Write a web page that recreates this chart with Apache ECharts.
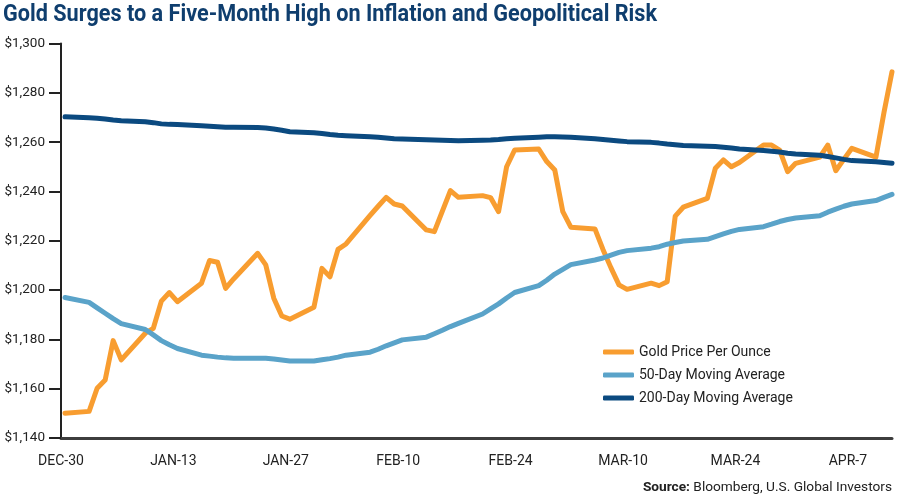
<!DOCTYPE html>
<html>
<head>
<meta charset="utf-8">
<script src="https://cdn.jsdelivr.net/npm/echarts@6/dist/echarts.min.js"></script>
<style>
html,body{margin:0;padding:0;background:#fff;}
#c{width:900px;height:501px;}
</style>
</head>
<body>
<div id="c"></div>
<script>
const dates = [
'2016-12-30',
'2017-01-02','2017-01-03','2017-01-04','2017-01-05','2017-01-06',
'2017-01-09','2017-01-10','2017-01-11','2017-01-12','2017-01-13',
'2017-01-16','2017-01-17','2017-01-18','2017-01-19','2017-01-20',
'2017-01-23','2017-01-24','2017-01-25','2017-01-26','2017-01-27',
'2017-01-30','2017-01-31','2017-02-01','2017-02-02','2017-02-03',
'2017-02-06','2017-02-07','2017-02-08','2017-02-09','2017-02-10',
'2017-02-13','2017-02-14','2017-02-15','2017-02-16','2017-02-17',
'2017-02-20','2017-02-21','2017-02-22','2017-02-23','2017-02-24',
'2017-02-27','2017-02-28','2017-03-01','2017-03-02','2017-03-03',
'2017-03-06','2017-03-07','2017-03-08','2017-03-09','2017-03-10',
'2017-03-13','2017-03-14','2017-03-15','2017-03-16','2017-03-17',
'2017-03-20','2017-03-21','2017-03-22','2017-03-23','2017-03-24',
'2017-03-27','2017-03-28','2017-03-29','2017-03-30','2017-03-31',
'2017-04-03','2017-04-04','2017-04-05','2017-04-06','2017-04-07',
'2017-04-10','2017-04-11','2017-04-12'
];
const gold = [
1150.0,
1150.8, 1160.2, 1163.5, 1179.5, 1171.7,
1182.5, 1184.5, 1195.5, 1199.0, 1195.3,
1202.8, 1212.0, 1211.3, 1200.7, 1204.5,
1214.9, 1210.2, 1196.7, 1189.5, 1188.2,
1193.0, 1208.8, 1205.4, 1216.5, 1218.7,
1230.3, 1234.0, 1237.6, 1234.9, 1234.1,
1224.4, 1223.7, 1232.0, 1240.3, 1237.6,
1238.3, 1237.5, 1231.8, 1250.0, 1256.8,
1257.2, 1252.1, 1248.7, 1231.8, 1225.5,
1224.8, 1216.5, 1209.0, 1202.1, 1200.3,
1202.8, 1201.8, 1203.4, 1230.0, 1233.6,
1237.2, 1249.4, 1252.8, 1250.0, 1251.7,
1258.8, 1258.8, 1256.8, 1248.0, 1251.4,
1253.9, 1258.8, 1248.4, 1253.0, 1257.5,
1253.9, 1272.0, 1288.5
];
const ma50 = [
1197.0,
1195.0, 1192.8, 1190.6, 1188.4, 1186.4,
1184.0, 1181.8, 1179.5, 1177.8, 1176.3,
1173.6, 1173.2, 1172.8, 1172.5, 1172.3,
1172.3, 1172.3, 1172.0, 1171.6, 1171.2,
1171.2, 1171.7, 1172.2, 1172.8, 1173.6,
1174.8, 1176.0, 1177.4, 1178.6, 1179.8,
1180.9, 1182.3, 1183.7, 1185.2, 1186.5,
1190.3, 1192.4, 1194.4, 1196.8, 1199.0,
1201.8, 1204.0, 1206.5, 1208.4, 1210.3,
1212.2, 1213.0, 1214.2, 1215.3, 1216.0,
1217.0, 1217.6, 1218.6, 1219.3, 1219.9,
1220.6, 1221.7, 1222.8, 1223.8, 1224.6,
1225.7, 1226.7, 1227.8, 1228.6, 1229.2,
1230.1, 1231.6, 1232.8, 1234.0, 1234.9,
1236.3, 1237.6, 1238.8
];
const ma200 = [
1270.3,
1269.9, 1269.7, 1269.4, 1269.0, 1268.7,
1268.3, 1267.9, 1267.4, 1267.2, 1267.1,
1266.6, 1266.4, 1266.2, 1266.0, 1266.0,
1265.9, 1265.7, 1265.3, 1264.8, 1264.2,
1263.8, 1263.5, 1263.1, 1262.8, 1262.6,
1262.2, 1262.0, 1261.7, 1261.4, 1261.3,
1261.0, 1260.9, 1260.8, 1260.7, 1260.6,
1260.8, 1260.9, 1261.1, 1261.4, 1261.6,
1262.0, 1262.2, 1262.2, 1262.1, 1262.0,
1261.4, 1261.1, 1260.8, 1260.5, 1260.2,
1259.9, 1259.6, 1259.2, 1258.9, 1258.6,
1258.3, 1258.2, 1257.9, 1257.6, 1257.2,
1256.6, 1256.3, 1256.0, 1255.5, 1255.2,
1254.7, 1254.2, 1253.6, 1253.0, 1252.5,
1252.0, 1251.7, 1251.4
];
const xTickLabels = ['DEC-30','JAN-13','JAN-27','FEB-10','FEB-24','MAR-10','MAR-24','APR-7'];
const seriesNames = ['Gold Price Per Ounce','50-Day Moving Average','200-Day Moving Average'];
const titleText = 'Gold Surges to a Five-Month High on Inflation and Geopolitical Risk';

const DAY = 86400000;
const t0 = Date.UTC(2016, 11, 30);
function dayPos(s) {
  const p = s.split('-').map(Number);
  return (Date.UTC(p[0], p[1] - 1, p[2]) - t0) / DAY + 0.5;
}
function pairs(vals) { return dates.map((d, i) => [dayPos(d), vals[i]]); }

const FONT = 'Roboto, "Noto Sans", sans-serif';
const TITLE_FONT = 'bold 23px Roboto, sans-serif';
const mctx = document.createElement('canvas').getContext('2d');
mctx.font = TITLE_FONT;
const titleScale = 654 / mctx.measureText(titleText).width;

const chart = echarts.init(document.getElementById('c'), null, {renderer: 'canvas'});
const lineBase = (name, vals, color, z) => ({
  name: name, type: 'line', data: pairs(vals), showSymbol: false, symbol: 'none',
  clip: false, z: z, silent: true,
  lineStyle: {color: color, width: 5, cap: 'round', join: 'round'},
  itemStyle: {color: color}
});
chart.setOption({
  animation: false,
  grid: {left: 61, right: 8, top: 43.5, bottom: 63, containLabel: false},
  legend: {
    orient: 'vertical', left: 598, top: 340, itemGap: 9,
    itemWidth: 31, itemHeight: 5, icon: 'roundRect',
    textStyle: {fontFamily: FONT, fontSize: 14, color: '#222'},
    data: seriesNames
  },
  xAxis: {
    type: 'value', min: 0, max: 103.5, interval: 14,
    axisLine: {show: true, lineStyle: {color: '#3d3d3d', width: 3}},
    axisTick: {show: false},
    splitLine: {show: false},
    axisLabel: {
      fontFamily: FONT, fontSize: 14, color: '#222', margin: 16,
      showMaxLabel: false,
      formatter: function (v) {
        const k = v / 14;
        return Math.abs(k - Math.round(k)) < 1e-6 && xTickLabels[Math.round(k)] ? xTickLabels[Math.round(k)] : '';
      }
    }
  },
  yAxis: {
    type: 'value', min: 1140, max: 1300, interval: 20,
    axisLine: {show: true, lineStyle: {color: '#222', width: 2}},
    axisTick: {show: true, length: 12, lineStyle: {color: '#222', width: 2}},
    splitLine: {show: false},
    axisLabel: {
      fontFamily: FONT, fontSize: 13.5, color: '#222', margin: 16,
      formatter: v => '$' + String(v).replace(/\B(?=(\d{3})+(?!\d))/g, ',')
    }
  },
  graphic: [{
    type: 'text', x: 3, y: 4, scaleX: titleScale,
    style: {
      text: titleText, fontFamily: 'Roboto, sans-serif', fontSize: 23, fontWeight: 'bold',
      fill: '#0f3e6e', textVerticalAlign: 'top'
    }
  }, {
    type: 'text', right: 8, bottom: 6,
    style: {
      text: '{b|Source:} Bloomberg, U.S. Global Investors',
      rich: {b: {fontWeight: 'bold', fontFamily: FONT, fontSize: 13.7, fill: '#222'}},
      fontFamily: FONT, fontSize: 13.7, fill: '#222'
    }
  }],
  series: [
    lineBase(seriesNames[0], gold, '#f89d30', 3),
    lineBase(seriesNames[1], ma50, '#5aa3c9', 4),
    lineBase(seriesNames[2], ma200, '#0b4a80', 5)
  ]
});
</script>
</body>
</html>
